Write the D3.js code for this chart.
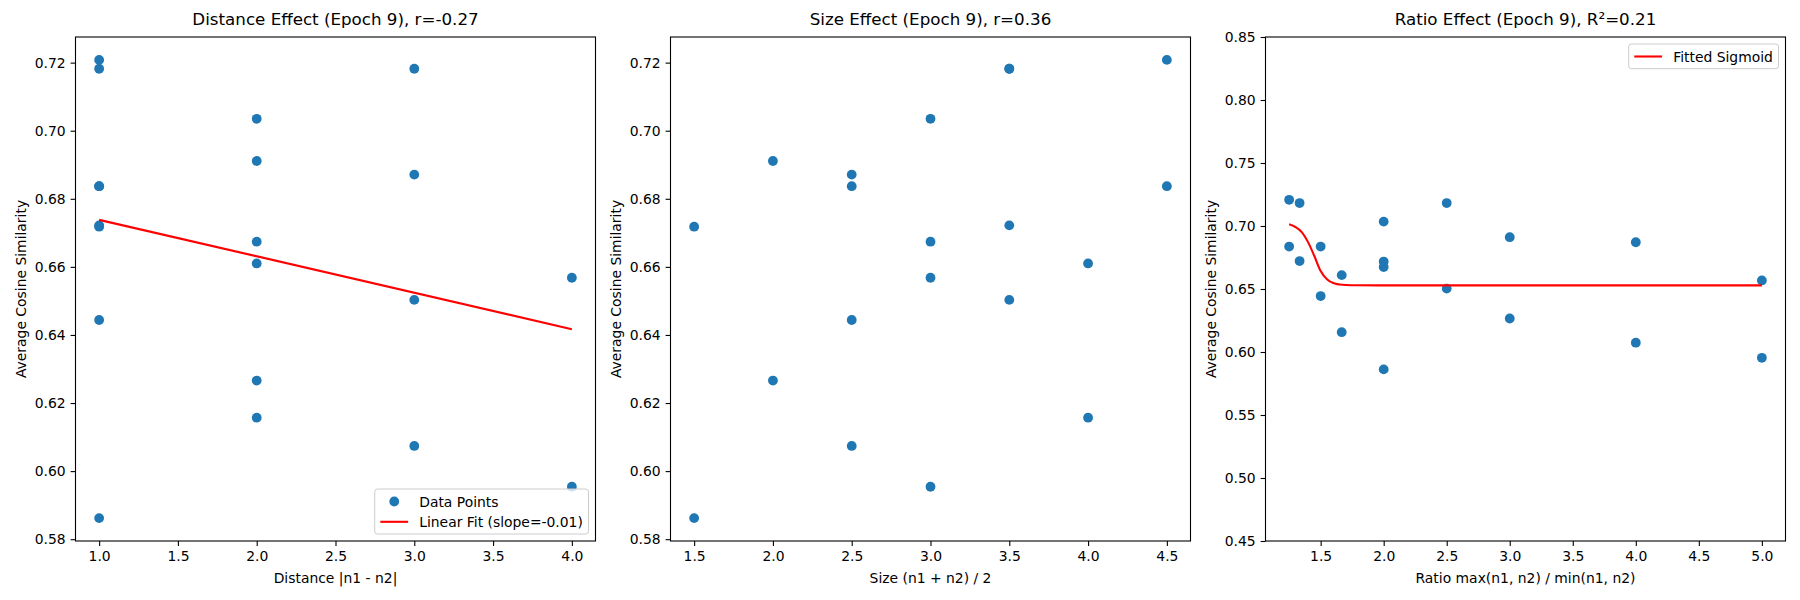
<!DOCTYPE html>
<html>
<head>
<meta charset="utf-8">
<script src="https://cdn.jsdelivr.net/npm/d3@7"></script>
<style>
  body { margin: 0; background: #fff; }
  svg text { font-family: 'DejaVu Sans', sans-serif; fill: #000; }
</style>
</head>
<body>
<svg id="chart" width="1800" height="600"></svg>
<script>
// Ordered pairs (n1, n2), two per unordered pair
const similarity = [0.6718, 0.5862, 0.6837, 0.6444, 0.7182, 0.6722, 0.7208, 0.6837, 0.6911, 0.6266,
  0.7035, 0.6674, 0.6610, 0.6157, 0.6871, 0.6074, 0.7182, 0.6503, 0.6568, 0.5954]
const distance = [1, 1, 1, 1, 1, 1, 1, 1, 2, 2, 2, 2, 2, 2, 3, 3, 3, 3, 4, 4]
const size = [1.5, 1.5, 2.5, 2.5, 3.5, 3.5, 4.5, 4.5, 2, 2, 3, 3, 4, 4, 2.5, 2.5, 3.5, 3.5, 3, 3]
const ratio = [2, 2, 1.5, 1.5, 1.333, 1.333, 1.25, 1.25, 3, 3, 2, 2, 1.667, 1.667, 4, 4, 2.5, 2.5, 5, 5]

// Fitted curves
const linearFitX = [1, 4]
const linearFitY = [0.6738, 0.6417]
const sigmoidX = [1.25, 1.30, 1.35, 1.40, 1.45, 1.50, 1.55, 1.60, 1.65, 1.70, 1.80, 2.00, 3.00, 4.00, 5.00]
const sigmoidY = [0.7013, 0.6992, 0.6952, 0.6872, 0.6762, 0.6642, 0.6577, 0.6547, 0.6536, 0.6532, 0.6530, 0.6529, 0.6529, 0.6529, 0.6529]

const titles = ['Distance Effect (Epoch 9), r=-0.27', 'Size Effect (Epoch 9), r=0.36', 'Ratio Effect (Epoch 9), R²=0.21']
const xLabels = ['Distance |n1 - n2|', 'Size (n1 + n2) / 2', 'Ratio max(n1, n2) / min(n1, n2)']
const yLabel = 'Average Cosine Similarity'
const xTicks1 = [1.0, 1.5, 2.0, 2.5, 3.0, 3.5, 4.0]
const xTicks2 = [1.5, 2.0, 2.5, 3.0, 3.5, 4.0, 4.5]
const xTicks3 = [1.5, 2.0, 2.5, 3.0, 3.5, 4.0, 4.5, 5.0]
const yTicks12 = [0.58, 0.60, 0.62, 0.64, 0.66, 0.68, 0.70, 0.72]
const yTicks3 = [0.45, 0.50, 0.55, 0.60, 0.65, 0.70, 0.75, 0.80, 0.85]
const yLimits3 = [0.45, 0.85]
const legend1 = ['Data Points', 'Linear Fit (slope=-0.01)']
const legend3 = ['Fitted Sigmoid']

const BLUE = '#1f77b4'
const RED = '#ff0000'
const FONT = 13.9
const panelLefts = [75.5, 670.5, 1265.5]
const panelWidth = 520
const plotTop = 37
const plotBottom = 541

const svg = d3.select('#chart')

/**
 * Domain with matplotlib's default 5% margin on each side.
 *
 * @param {number[]} values The values to cover
 * @returns {number[]} The padded domain
 */
function padded (values) {
  const [lo, hi] = d3.extent(values)
  const m = (hi - lo) * 0.05
  return [lo - m, hi + m]
}

/**
 * Draws one subplot: axes, title, labels and scatter points.
 *
 * @returns {object} The group and scales of the panel
 */
function drawPanel (i, xs, ys, xDomain, yDomain, xTicks, yTicks) {
  const left = panelLefts[i]
  const x = d3.scaleLinear().domain(xDomain).range([left, left + panelWidth])
  const y = d3.scaleLinear().domain(yDomain).range([plotBottom, plotTop])
  const g = svg.append('g')

  const xAxis = g.append('g')
    .attr('transform', `translate(0,${plotBottom})`)
    .call(d3.axisBottom(x).tickValues(xTicks).tickFormat(d3.format('.1f'))
      .tickSize(4.9).tickPadding(4.9).tickSizeOuter(0))
  const yAxis = g.append('g')
    .attr('transform', `translate(${left},0)`)
    .call(d3.axisLeft(y).tickValues(yTicks).tickFormat(d3.format('.2f'))
      .tickSize(4.9).tickPadding(4.9).tickSizeOuter(0))

  for (const ax of [xAxis, yAxis]) {
    ax.select('.domain').remove()
    ax.selectAll('.tick line').attr('stroke', '#000').attr('stroke-width', 1.1)
    ax.selectAll('.tick text').style('font-size', FONT + 'px').attr('fill', '#000')
  }

  g.selectAll('circle.pt')
    .data(xs.map((d, k) => [d, ys[k]]))
    .join('circle')
    .attr('class', 'pt')
    .attr('cx', d => x(d[0]))
    .attr('cy', d => y(d[1]))
    .attr('r', 4.9)
    .attr('fill', BLUE)

  g.append('text')
    .attr('x', left + panelWidth / 2)
    .attr('y', plotTop - 12)
    .attr('text-anchor', 'middle')
    .style('font-size', '16.7px')
    .text(titles[i])

  g.append('text')
    .attr('x', left + panelWidth / 2)
    .attr('y', plotBottom + 41.5)
    .attr('text-anchor', 'middle')
    .style('font-size', FONT + 'px')
    .text(xLabels[i])

  g.append('text')
    .attr('transform', `translate(${left - 50},${(plotTop + plotBottom) / 2}) rotate(-90)`)
    .attr('text-anchor', 'middle')
    .style('font-size', FONT + 'px')
    .text(yLabel)

  return { g, x, y, left }
}

/**
 * Draws the spines on top of the plotted data.
 */
function drawFrame (p) {
  p.g.append('rect')
    .attr('x', p.left)
    .attr('y', plotTop)
    .attr('width', panelWidth)
    .attr('height', plotBottom - plotTop)
    .attr('fill', 'none')
    .attr('stroke', '#000')
    .attr('stroke-width', 1.1)
}

/**
 * Draws a matplotlib-like legend box.
 *
 * @param {*} p The panel
 * @param {Array} items [label, kind] pairs, kind is 'dot' or 'line'
 * @param {string} corner 'lower right' or 'upper right'
 */
function drawLegend (p, items, corner) {
  const lg = p.g.append('g')
  const texts = items.map(([label]) => lg.append('text')
    .style('font-size', FONT + 'px')
    .attr('dominant-baseline', 'central')
    .text(label))
  const textW = d3.max(texts, t => t.node().getComputedTextLength())
  const rowH = 20.3
  const w = 5.6 + 27.8 + 11.1 + textW + 5.6
  const h = 24.7 + rowH * (items.length - 1)
  const right = p.left + panelWidth - 7
  const bx = right - w
  const by = corner === 'lower right' ? plotBottom - 7 - h : plotTop + 7

  lg.insert('rect', 'text')
    .attr('x', bx)
    .attr('y', by)
    .attr('width', w)
    .attr('height', h)
    .attr('rx', 2.8)
    .attr('fill', '#fff')
    .attr('fill-opacity', 0.8)
    .attr('stroke', '#cccccc')
    .attr('stroke-width', 1)

  items.forEach(([, kind], k) => {
    const cy = by + 12.5 + k * rowH
    texts[k].attr('x', bx + 5.6 + 27.8 + 11.1).attr('y', cy)
    if (kind === 'dot') {
      lg.append('circle')
        .attr('cx', bx + 5.6 + 13.9)
        .attr('cy', cy)
        .attr('r', 4.9)
        .attr('fill', BLUE)
    } else {
      lg.append('line')
        .attr('x1', bx + 5.6)
        .attr('x2', bx + 5.6 + 27.8)
        .attr('y1', cy)
        .attr('y2', cy)
        .attr('stroke', RED)
        .attr('stroke-width', 2.1)
    }
  })
}

const fitLine = (p) => d3.line().x(d => p.x(d[0])).y(d => p.y(d[1]))

// Panel 1: distance
const yDomain12 = padded(similarity)
const p1 = drawPanel(0, distance, similarity, padded(distance), yDomain12, xTicks1, yTicks12)
p1.g.append('path')
  .datum(linearFitX.map((d, k) => [d, linearFitY[k]]))
  .attr('d', fitLine(p1))
  .attr('fill', 'none')
  .attr('stroke', RED)
  .attr('stroke-width', 2.1)
drawFrame(p1)
drawLegend(p1, [[legend1[0], 'dot'], [legend1[1], 'line']], 'lower right')

// Panel 2: size
const p2 = drawPanel(1, size, similarity, padded(size), yDomain12, xTicks2, yTicks12)
drawFrame(p2)

// Panel 3: ratio with fitted sigmoid
const p3 = drawPanel(2, ratio, similarity, padded(ratio), yLimits3, xTicks3, yTicks3)
p3.g.append('path')
  .datum(sigmoidX.map((d, k) => [d, sigmoidY[k]]))
  .attr('d', fitLine(p3).curve(d3.curveMonotoneX))
  .attr('fill', 'none')
  .attr('stroke', RED)
  .attr('stroke-width', 2.1)
drawFrame(p3)
drawLegend(p3, [[legend3[0], 'line']], 'upper right')
</script>
</body>
</html>
